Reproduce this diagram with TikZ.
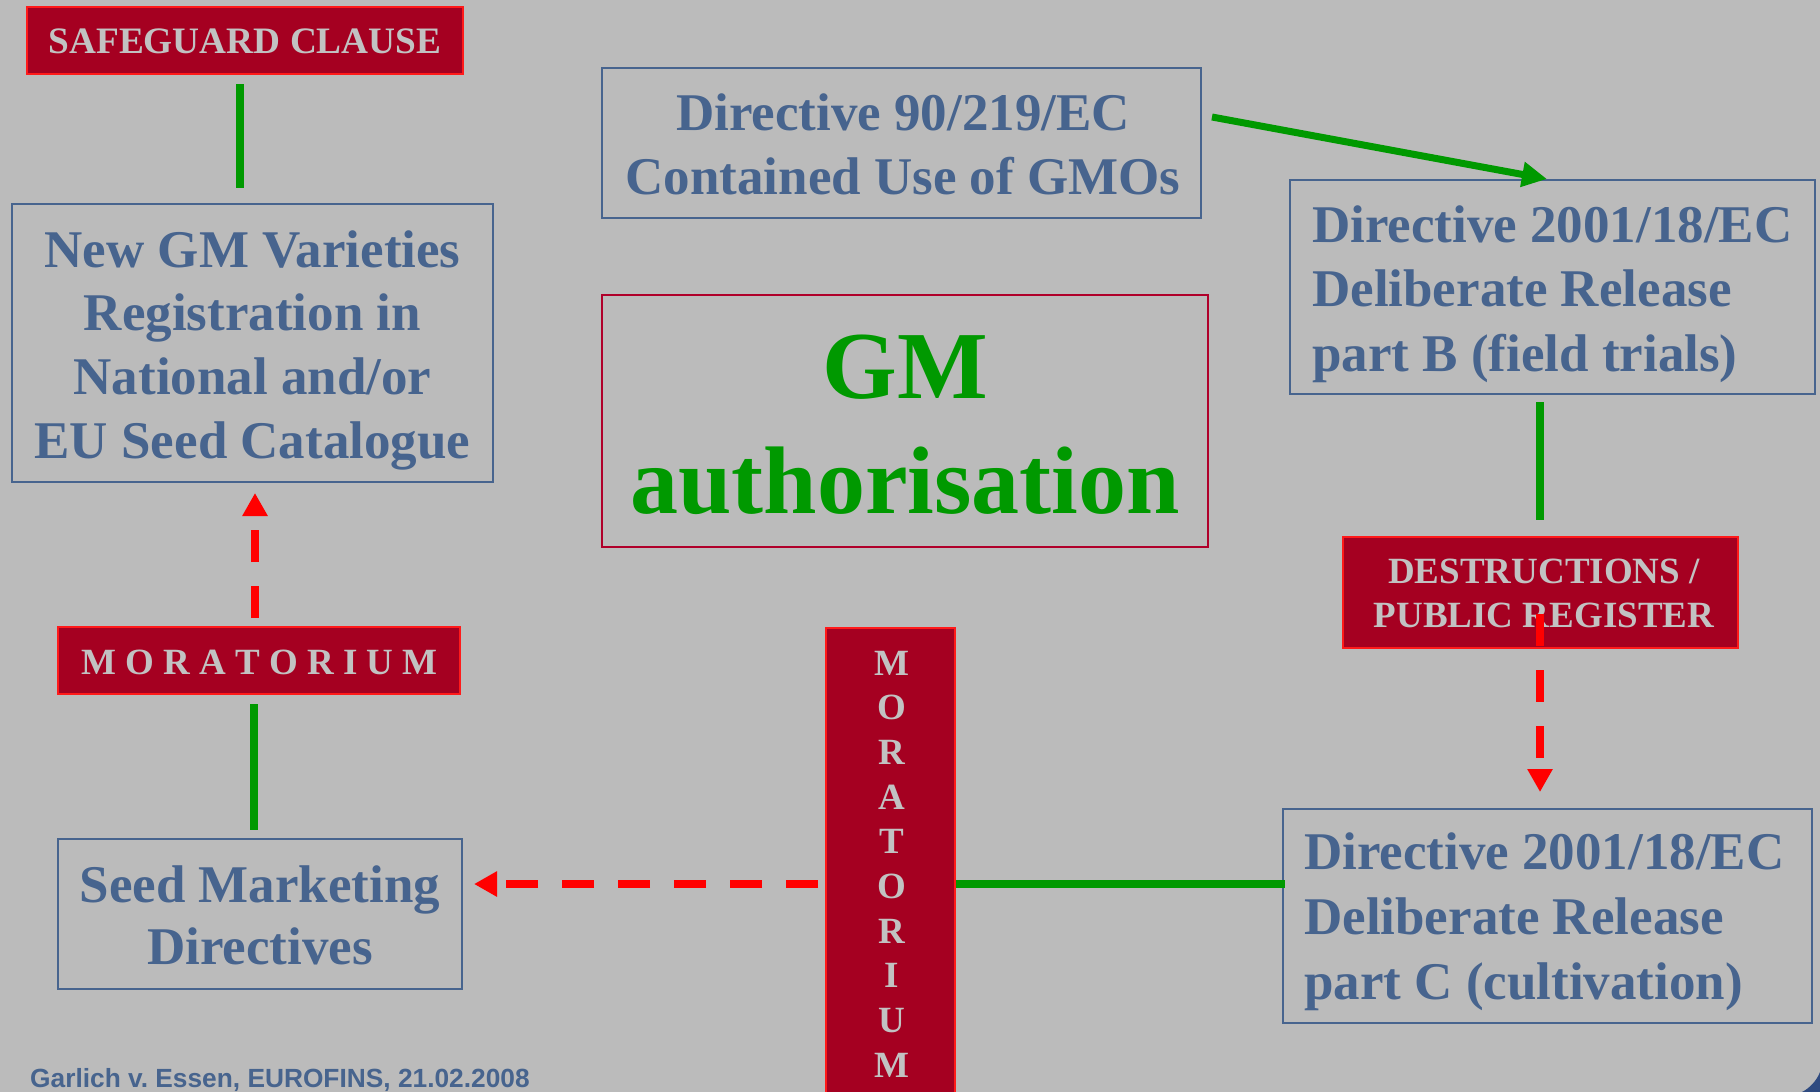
\documentclass[tikz,border=0pt]{standalone}
\usepackage{fontspec}
\setmainfont{Liberation Serif}
\newfontfamily\footfont{Liberation Sans}
\usetikzlibrary{arrows.meta}
\frenchspacing
\definecolor{bgc}{HTML}{BBBBBB}
\definecolor{bluet}{HTML}{47648E}
\definecolor{redfill}{HTML}{A50021}
\definecolor{redline}{HTML}{FF1A1A}
\definecolor{gmred}{HTML}{B0002A}
\definecolor{grn}{HTML}{009900}
\definecolor{lgray}{HTML}{C2C2C2}
\definecolor{redd}{HTML}{FF0000}
\definecolor{cornerblue}{HTML}{2E4A80}
\begin{document}
\begin{tikzpicture}[x=1pt,y=-1pt,
  bluebox/.style={draw=bluet, line width=2pt, inner sep=0pt, rectangle},
  redbox/.style={draw=redline, fill=redfill, line width=2pt, inner sep=0pt, rectangle},
  gmbox/.style={draw=gmred, line width=2pt, inner sep=0pt, rectangle},
  bt/.style={text=bluet, font=\fontsize{53}{64}\selectfont\bfseries, inner sep=0pt, anchor=base},
  btl/.style={bt, anchor=base west},
  wt/.style={text=lgray, font=\fontsize{37}{44}\selectfont\bfseries, inner sep=0pt, anchor=base},
  gmt/.style={text=grn, font=\fontsize{96}{115}\selectfont\bfseries, inner sep=0pt, anchor=base},
  gline/.style={draw=grn, line width=8pt},
  garrow/.style={draw=grn, line width=7pt, -{Triangle[length=25pt, width=24pt]}},
  rdash/.style={draw=redd, line width=8pt, dash pattern=on 32pt off 24pt, -{Triangle[length=23pt, width=24pt]}}
]
\useasboundingbox (0,0) rectangle (1820,1092);
\fill[bgc] (0,0) rectangle (1820,1092);
\fill[cornerblue] (1820,1072) -- (1820,1092) -- (1802,1092) .. controls (1810,1088) and (1817,1080) .. (1820,1072);

% boxes
\node[redbox, minimum width=436pt, minimum height=67pt] (sg) at (245,40.5) {};
\node[bluebox, minimum width=481pt, minimum height=278pt] (newgm) at (252.5,343) {};
\node[bluebox, minimum width=599pt, minimum height=150pt] (dir90) at (901.5,143) {};
\node[gmbox, minimum width=606pt, minimum height=252pt] (gm) at (905,421) {};
\node[bluebox, minimum width=525pt, minimum height=214pt] (dirB) at (1552.5,287) {};
\node[redbox, minimum width=395pt, minimum height=111pt] (destr) at (1540.5,592.5) {};
\node[redbox, minimum width=402.5pt, minimum height=67pt] (morL) at (258.75,660.5) {};
\node[redbox, minimum width=129pt, minimum height=472pt] (morV) at (890.5,864) {};
\node[bluebox, minimum width=404.5pt, minimum height=150pt] (seed) at (259.75,914) {};
\node[bluebox, minimum width=529pt, minimum height=214pt] (partC) at (1547.5,916) {};

% texts
\node[wt, font=\fontsize{37.3}{44}\selectfont\bfseries] (sgt) at (245,53) {SAFEGUARD CLAUSE};

\node[bt] (ngm1) at (252.5,267) {New GM Varieties};
\node[bt] (ngm2) at (252.5,330) {Registration in};
\node[bt] (ngm3) at (252.5,394) {National and/or};
\node[bt] (ngm4) at (252.5,458) {EU Seed Catalogue};

\node[bt] (d901) at (903,130) {Directive 90/219/EC};
\node[bt] (d902) at (903,194) {Contained Use of GMOs};

\node[gmt] (gm1) at (905,398) {GM};
\node[gmt] (gm2) at (905,513) {authorisation};

\node[btl] (db1) at (1312,242) {Directive 2001/18/EC};
\node[btl] (db2) at (1312,306) {Deliberate Release};
\node[btl] (db3) at (1312,371) {part B (field trials)};

\node[wt] (de1) at (1544,583) {DESTRUCTIONS /};
\node[wt] (de2) at (1544,627) {PUBLIC REGISTER};

\node[wt] (mlt) at (259.5,674) {M O R A T O R I U M};

\foreach \l [count=\i from 0] in {M,O,R,A,T,O,R,I,U,M}
  \node[wt] (mv\i) at (891.5,675+44.7*\i) {\l};

\node[bt] (sd1) at (260,902) {Seed Marketing};
\node[bt] (sd2) at (260,964) {Directives};

\node[btl] (pc1) at (1304,869) {Directive 2001/18/EC};
\node[btl] (pc2) at (1304,934) {Deliberate Release};
\node[btl] (pc3) at (1304,999) {part C (cultivation)};

\node[anchor=base west, text=bluet, inner sep=0pt, font=\footfont\bfseries\fontsize{26.3}{30}\selectfont] (foot) at (30,1087) {Garlich v.\ Essen, EUROFINS, 21.02.2008};

% connectors
\coordinate (hy) at (0,884);
\draw[gline, shorten <=9pt, shorten >=15pt] ([xshift=-5pt]sg.south) -- ([xshift=-12.5pt]newgm.north);
\draw[rdash, shorten <=8pt, shorten >=10pt] ([xshift=-3.75pt]morL.north) -- ([xshift=2.5pt]newgm.south);
\draw[gline, shorten <=9pt, shorten >=8pt] ([xshift=-4.75pt]morL.south) -- ([xshift=-5.75pt]seed.north);
\draw[rdash, shorten <=7pt, shorten >=11pt] (morV.west |- hy) -- (seed.east |- hy);
\draw[gline, shorten >=-3pt] (morV.east |- hy) -- (partC.west |- hy);
\draw[garrow] ([shift={(10pt,26pt)}]dir90.east) -- ([xshift=-5.5pt]dirB.north);
\draw[gline, shorten <=7pt, shorten >=16pt] ([xshift=-12.5pt]dirB.south) -- ([xshift=-0.5pt]destr.north);
\draw[rdash, shorten <=-35pt, shorten >=16pt] ([xshift=-0.5pt]destr.south) -- ([xshift=-7.5pt]partC.north);
\end{tikzpicture}
\end{document}
